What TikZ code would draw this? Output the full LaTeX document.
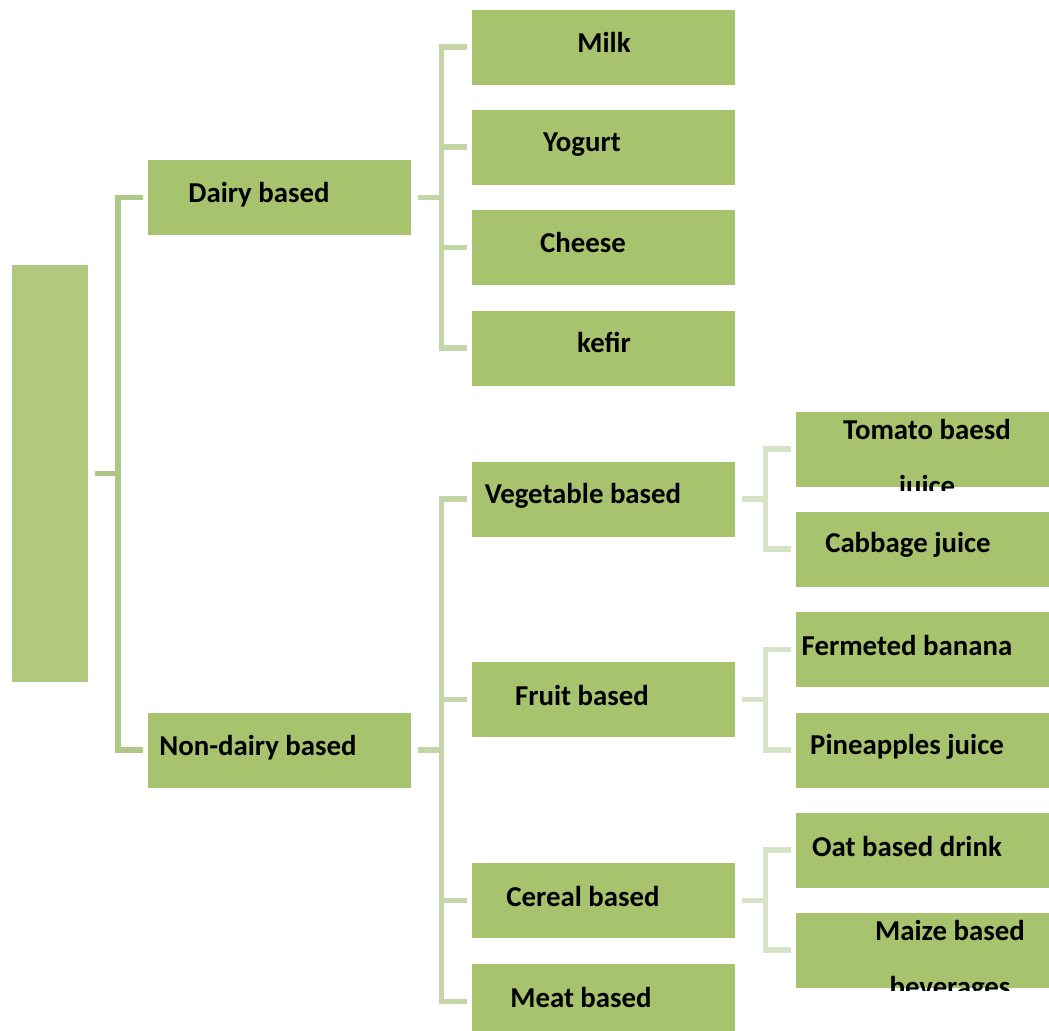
\documentclass[tikz,border=0pt]{standalone}
\usepackage{fontspec}
\setmainfont{Carlito}
\usepackage{xcolor}
\usetikzlibrary{positioning, calc}
\definecolor{boxgreen}{HTML}{A8C36E}
\definecolor{rootgreen}{HTML}{B1C97E}
\definecolor{linkdark}{HTML}{AEC784}
\definecolor{linkmid}{HTML}{C4D6A8}
\definecolor{linklight}{HTML}{D7E3C6}

\begin{document}
\begin{tikzpicture}[
    box/.style={fill=boxgreen, draw=none, minimum width=6.575cm, minimum height=1.875cm,
                inner sep=0pt},
    lbl/.style={font=\fontsize{20.5}{39.8}\selectfont\bfseries, align=center, inner sep=0pt},
    trunk/.style={draw=linkdark, line width=4pt},
    branch/.style={draw=linkmid, line width=4pt},
    twig/.style={draw=linklight, line width=4pt},
]
\useasboundingbox (0,0) rectangle (26.225,-25.775);

% Root
\node[fill=rootgreen, minimum width=1.9cm, minimum height=10.425cm, inner sep=0pt] (root) at (1.25,-11.84) {};

% Level 1
\node[box] (dairy)    at (6.99, -4.94) {};
\node[box] (nondairy) at (6.99, -18.75) {};
\node[lbl] (dairy-t)    at (6.475, -4.875)  {Dairy based};
\node[lbl] (nondairy-t) at (6.45,  -18.7) {Non-dairy based};

% Level 2 (dairy)
\node[box] (milk)   at (15.09, -1.175) {};
\node[box] (yogurt) at (15.09, -3.675) {};
\node[box] (cheese) at (15.09, -6.19)  {};
\node[box] (kefir)  at (15.09, -8.7)   {};
\node[lbl] (milk-t)   at (15.1,   -1.05)  {Milk};
\node[lbl] (yogurt-t) at (14.55,  -3.625) {Yogurt};
\node[lbl] (cheese-t) at (14.575, -6.05)  {Cheese};
\node[lbl] (kefir-t)  at (15.1,   -8.55)  {kefir};

% Level 2 (non-dairy)
\node[box] (veg)    at (15.09, -12.475) {};
\node[box] (fruit)  at (15.09, -17.49)  {};
\node[box] (cereal) at (15.09, -22.51)  {};
\node[box] (meat)   at (15.09, -25.04)  {};
\node[lbl] (veg-t)    at (14.575, -12.4)   {Vegetable based};
\node[lbl] (fruit-t)  at (14.55,  -17.375) {Fruit based};
\node[lbl] (cereal-t) at (14.575, -22.4)   {Cereal based};
\node[lbl] (meat-t)   at (14.525, -24.925) {Meat based};

% Level 3
\node[box] (tomato)  at (23.19, -11.225) {};
\node[box] (cabbage) at (23.19, -13.725) {};
\node[box] (banana)  at (23.19, -16.24)  {};
\node[box] (pine)    at (23.19, -18.75)  {};
\node[box] (oat)     at (23.19, -21.25)  {};
\node[box] (maize)   at (23.19, -23.75)  {};
\begin{scope}
  \clip ([yshift=1cm]tomato.north west) rectangle ([yshift=-0.1cm]tomato.south east);
  \node[lbl] (tomato-t) at (23.175, -11.49) {Tomato baesd\\juice};
\end{scope}
\node[lbl] (cabbage-t) at (22.7,   -13.625) {Cabbage juice};
\node[lbl] (banana-t)  at (22.675, -16.125) {Fermeted banana};
\node[lbl] (pine-t)    at (22.675, -18.675) {Pineapples juice};
\node[lbl] (oat-t)     at (22.675, -21.15)  {Oat based drink};
\begin{scope}
  \clip ([yshift=1cm]maize.north west) rectangle ([yshift=-0.08cm]maize.south east);
  \node[lbl] (maize-t) at (23.75, -24.03) {Maize based\\beverages};
\end{scope}

% Connectors root -> level 1
\draw[trunk] ([xshift=0.175cm]root.east) -- ++(0.575,0) coordinate (rj)
  |- ([xshift=-0.125cm]dairy.west);
\draw[trunk] (rj) |- ([xshift=-0.125cm]nondairy.west);

% Connectors level 1 -> level 2
\draw[branch] ([xshift=0.175cm]dairy.east) -- ++(0.575,0) coordinate (dj);
\foreach \n in {milk, yogurt, cheese, kefir}
  \draw[branch] (dj) |- ([xshift=-0.125cm]\n.west);
\draw[branch] ([xshift=0.175cm]nondairy.east) -- ++(0.575,0) coordinate (nj);
\foreach \n in {veg, fruit, cereal, meat}
  \draw[branch] (nj) |- ([xshift=-0.125cm]\n.west);

% Connectors level 2 -> level 3
\foreach \p/\a/\b in {veg/tomato/cabbage, fruit/banana/pine, cereal/oat/maize} {
  \draw[twig] ([xshift=0.175cm]\p.east) -- ++(0.575,0) coordinate (\p-j);
  \draw[twig] (\p-j) |- ([xshift=-0.125cm]\a.west);
  \draw[twig] (\p-j) |- ([xshift=-0.125cm]\b.west);
}

\end{tikzpicture}
\end{document}
